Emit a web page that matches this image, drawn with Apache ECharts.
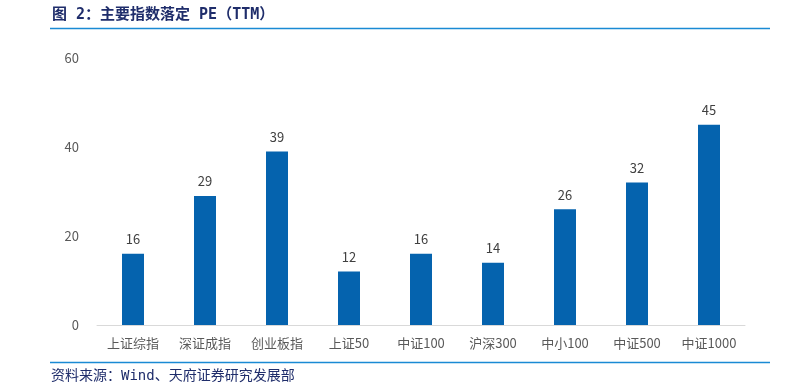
<!DOCTYPE html>
<html><head><meta charset="utf-8">
<script src="https://cdn.jsdelivr.net/npm/echarts@6/dist/echarts.min.js"></script>
<style>html,body{margin:0;padding:0;background:#fff}#c{width:785px;height:385px}</style>
</head><body><div id="c"></div>
<script>
const categories = ['上证综指','深证成指','创业板指','上证50','中证100','沪深300','中小100','中证500','中证1000'];
const peValues = [16, 29, 39, 12, 16, 14, 26, 32, 45];
const yTicks = [0, 20, 40, 60];
const titleText = '图 2：主要指数落定 PE（TTM）';
const sourceText = '资料来源：Wind、天府证券研究发展部';

const chart = echarts.init(document.getElementById('c'), null, {renderer:'canvas'});
chart.setOption({
  animation:false,
  grid:{left:97, right:40, top:58, bottom:60},
  xAxis:{type:'category', data:categories,
    axisLine:{lineStyle:{color:'#d9d9d9', width:1}},
    axisTick:{show:false},
    axisLabel:{color:'#595959', fontSize:13, margin:12, fontFamily:'Noto Sans CJK SC'}},
  yAxis:{type:'value', min:yTicks[0], max:yTicks[yTicks.length-1], interval:20,
    splitLine:{show:false}, axisLine:{show:false}, axisTick:{show:false},
    axisLabel:{color:'#595959', fontSize:13, margin:18, fontFamily:'Noto Sans CJK SC'}},
  series:[{type:'bar', data:peValues, barWidth:22,
    itemStyle:{color:'#0563ae'},
    label:{show:true, position:'top', distance:8, color:'#404040', fontSize:13, fontFamily:'Noto Sans CJK SC'}}],
  graphic:[
    {type:'text', left:52, top:8, style:{text:titleText, fill:'#1f2d6b', font:'bold 15px "DejaVu Sans Mono","Noto Sans CJK SC"'}},
    {type:'line', shape:{x1:50, y1:28.5, x2:770, y2:28.5}, style:{stroke:'#1a8ad4', lineWidth:1.5}},
    {type:'line', shape:{x1:50, y1:362.5, x2:770, y2:362.5}, style:{stroke:'#1a8ad4', lineWidth:1.5}},
    {type:'text', left:51, top:369, style:{text:sourceText, fill:'#1f2d6b', font:'14px "DejaVu Sans Mono","Noto Sans CJK SC"'}}
  ]
});
</script></body></html>
